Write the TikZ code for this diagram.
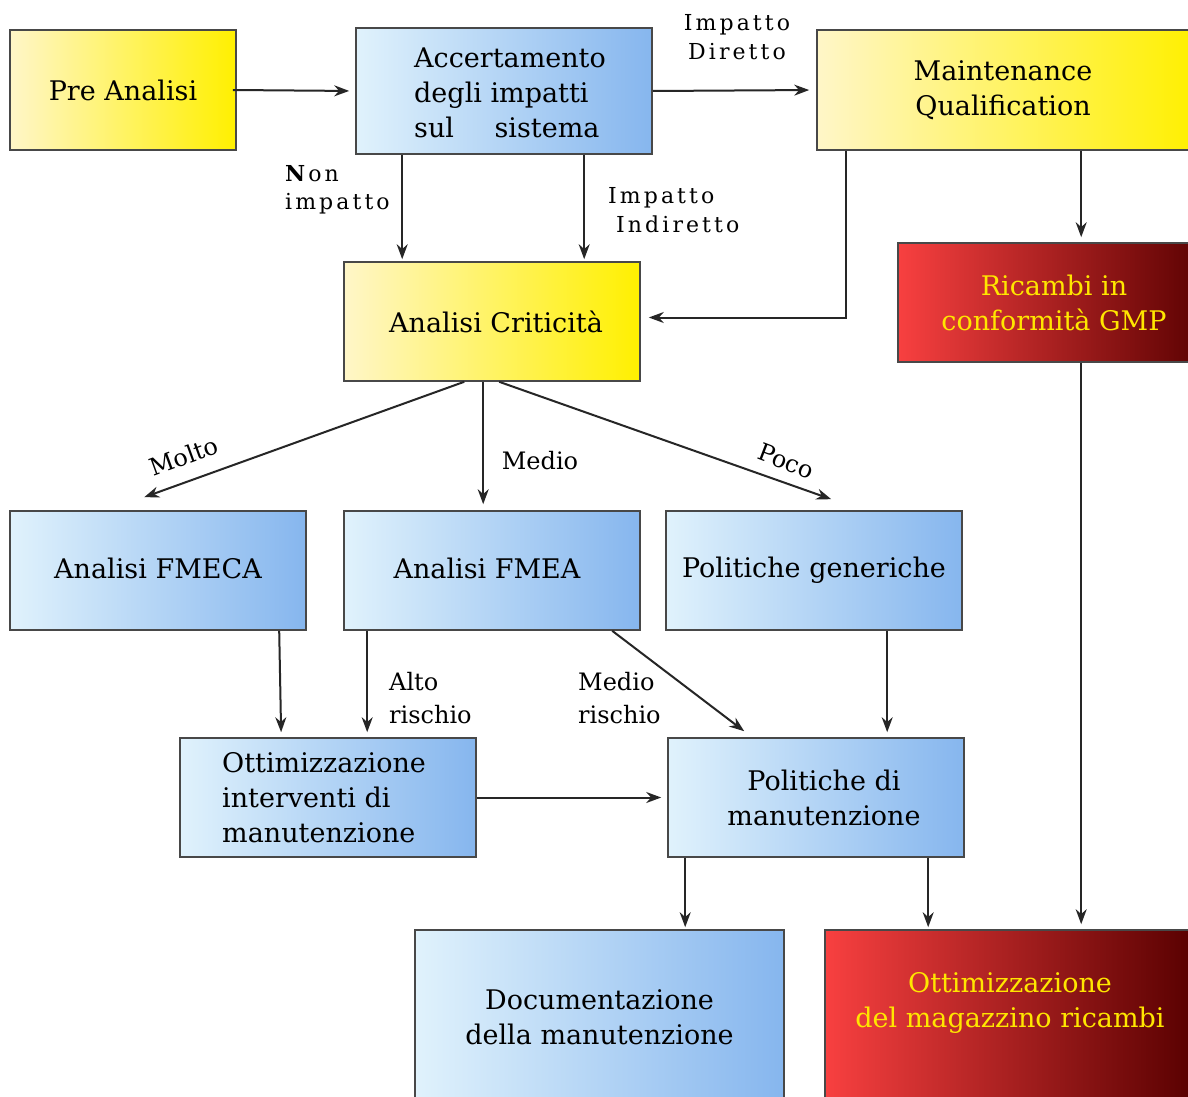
\documentclass[tikz,border=0pt]{standalone}
\usepackage{fontspec}
\setmainfont{DejaVu Serif}
\newfontfamily\labfont[LetterSpace=14]{DejaVu Serif}
\usetikzlibrary{calc,arrows.meta}
\definecolor{yelL}{HTML}{FFF6C8}
\definecolor{yelR}{HTML}{FFF000}
\definecolor{bluL}{HTML}{E0F2FC}
\definecolor{bluR}{HTML}{86B6EE}
\definecolor{redL}{HTML}{F84040}
\definecolor{redR}{HTML}{580000}
\definecolor{redtxt}{HTML}{FFE600}
\definecolor{edge}{HTML}{484848}
\newcommand{\boxfont}{\fontsize{27}{35}\selectfont}
\newcommand{\lblfont}{\labfont\fontsize{22}{28.5}\selectfont}
\newcommand{\lblfontb}{\fontsize{24}{33}\selectfont}
\tikzset{
  box/.style={draw=edge, line width=1.6pt, inner sep=0pt, align=center, font=\boxfont},
  yel/.style={box, left color=yelL, right color=yelR},
  blu/.style={box, left color=bluL, right color=bluR},
  redb/.style={box, left color=redL, right color=redR, text=redtxt},
  arr/.style={-{Stealth[length=15pt,width=11pt]}, line width=2pt, draw=black!85},
  lbl/.style={font=\lblfont, inner sep=0pt, align=left},
  lblb/.style={font=\lblfontb, inner sep=0pt, align=left},
}
\begin{document}
\begin{tikzpicture}[x=1pt,y=-1pt]
\useasboundingbox (0,0) rectangle (1188,1097);
\fill[white] (0,0) rectangle (1188,1097);
\clip (0,0) rectangle (1188,1097);

\node[yel, minimum width=226pt, minimum height=120pt] (pre) at (123,90) {Pre Analisi};
\node[blu, minimum width=296pt, minimum height=126pt] (acc) at (504,91) {};
\node[font=\boxfont, align=left, inner sep=0pt, anchor=west] (acct) at (414,93) {Accertamento\\degli impatti\\sul\hspace{1.5em}sistema};
\node[yel, minimum width=378pt, minimum height=120pt, text width=372pt] (mq) at (1006,90) {\hspace*{-6pt}Maintenance\\\hspace*{-6pt}Qualification};
\node[yel, minimum width=296pt, minimum height=119pt] (crit) at (492,321.5) {\hspace*{8pt}Analisi Criticità};
\node[redb, minimum width=312pt, minimum height=119pt] (ric) at (1054,302.5) {Ricambi in\\conformità GMP};
\node[blu, minimum width=296pt, minimum height=119pt] (fmeca) at (158,570.5) {\raisebox{4pt}{Analisi FMECA}};
\node[blu, minimum width=296pt, minimum height=119pt] (fmea) at (492,570.5) {\raisebox{4pt}{\hspace*{-10pt}Analisi FMEA}};
\node[blu, minimum width=296pt, minimum height=119pt] (polg) at (814,570.5) {Politiche generiche};
\node[blu, minimum width=296pt, minimum height=119pt] (ott) at (328,797.5) {};
\node[font=\boxfont, align=left, inner sep=0pt, anchor=west] (ottt) at (222,798) {Ottimizzazione\\interventi di\\manutenzione};
\node[blu, minimum width=296pt, minimum height=119pt] (polm) at (816,797.5) {\hspace*{16pt}Politiche di\\\hspace*{16pt}manutenzione};
\node[blu, minimum width=369pt, minimum height=175pt] (doc) at (599.5,1017.5) {Documentazione\\della manutenzione};
\node[redb, minimum width=370pt, minimum height=175pt] (mag) at (1010,1017.5) {};
\node[font=\boxfont, text=redtxt, align=center, inner sep=0pt] (magt) at (1010,1003) {Ottimizzazione\\del magazzino ricambi};

% arrows
\draw[arr, shorten >=6pt] ([xshift=-4pt]pre.east) -- (acc.west);
\draw[arr, shorten >=7pt] (acc.east) -- (mq.west);
\draw[arr, shorten >=2pt] ([xshift=47pt]acc.south west) coordinate (n1) -- (n1 |- crit.north);
\draw[arr, shorten >=2pt] ([xshift=229pt]acc.south west) coordinate (n2) -- (n2 |- crit.north);
\draw[arr, shorten >=8pt] ([xshift=30pt]mq.south west) |- ([yshift=4pt]crit.east);
\draw[arr, shorten >=5pt] ([xshift=265pt]mq.south west) coordinate (n3) -- (n3 |- ric.north);
\draw[arr, shorten >=5pt] ([xshift=184pt]ric.south west) coordinate (n4) -- (n4 |- mag.north);
\draw[arr] ([xshift=121pt]crit.south west) -- ([xshift=135pt,yshift=13pt]fmeca.north west);
\draw[arr, shorten >=6pt] ([xshift=140pt]crit.south west) coordinate (n5) -- (n5 |- fmea.north);
\draw[arr] ([xshift=156pt]crit.south west) -- ([xshift=166pt,yshift=11pt]polg.north west);
\draw[arr, shorten >=5pt] ([xshift=270pt]fmeca.south west) -- ([xshift=102pt]ott.north west);
\draw[arr, shorten >=5pt] ([xshift=24pt]fmea.south west) coordinate (n6) -- (n6 |- ott.north);
\draw[arr] ([xshift=269pt]fmea.south west) -- ([xshift=77pt,yshift=6pt]polm.north west);
\draw[arr, shorten >=5pt] ([xshift=222pt]polg.south west) coordinate (n7) -- (n7 |- polm.north);
\draw[arr, shorten >=6pt] (ott.east) -- (polm.west);
\draw[arr, shorten >=2pt] ([xshift=18pt]polm.south west) coordinate (n8) -- (n8 |- doc.north);
\draw[arr, shorten >=2pt] ([xshift=261pt]polm.south west) coordinate (n9) -- (n9 |- mag.north);

% labels
\node[lbl, align=center] (ld) at (737,37) {Impatto\\Diretto};
\node[lbl, anchor=west] (ln) at (285,190) {\textbf{N}on\\impatto};
\node[lbl, anchor=west] (li) at (608,210) {Impatto\\\hspace*{8pt}Indiretto};
\node[lblb, rotate=20] (lm) at (184,456) {Molto};
\node[lblb] (lme) at (540,461) {Medio};
\node[lblb, rotate=-21] (lp) at (786,461) {Poco};
\node[lblb, anchor=west] (la) at (389,698) {Alto\\rischio};
\node[lblb, anchor=west] (lmr) at (578,698) {Medio\\rischio};
\end{tikzpicture}
\end{document}
